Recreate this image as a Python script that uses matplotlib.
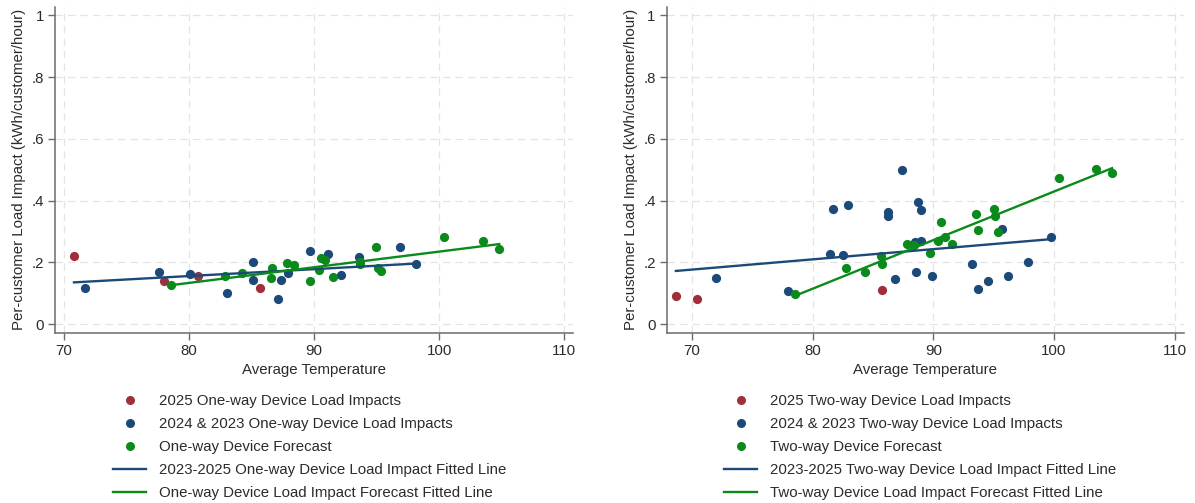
import matplotlib.pyplot as plt

plt.rcParams['font.family'] = ['Liberation Sans', 'DejaVu Sans']

# --- One-way devices (left panel) ---
one_red_x = [70.80, 77.96, 80.68, 85.67]
one_red_y = [0.220, 0.139, 0.156, 0.116]
one_blue_x = [71.68, 77.59, 80.10, 83.07, 85.12, 85.12, 87.14, 87.39, 87.88,
              89.66, 91.12, 92.17, 93.60, 96.85, 98.16]
one_blue_y = [0.118, 0.169, 0.163, 0.099, 0.202, 0.143, 0.080, 0.142, 0.166,
              0.237, 0.226, 0.158, 0.217, 0.249, 0.195]
one_green_x = [78.57, 82.86, 84.26, 86.56, 86.65, 87.81, 88.36, 89.65, 90.38,
               90.57, 90.88, 91.49, 93.63, 93.66, 94.98, 95.11, 95.31, 100.36,
               103.49, 104.80]
one_green_y = [0.128, 0.155, 0.166, 0.150, 0.180, 0.198, 0.191, 0.139, 0.174,
               0.213, 0.207, 0.151, 0.202, 0.194, 0.248, 0.180, 0.172, 0.281,
               0.270, 0.243]
one_fit_blue_x = [70.80, 98.16]
one_fit_blue_y = [0.135, 0.196]
one_fit_green_x = [78.57, 104.80]
one_fit_green_y = [0.126, 0.259]

# --- Two-way devices (right panel) ---
two_red_x = [68.68, 70.47, 85.72]
two_red_y = [0.090, 0.082, 0.111]
two_blue_x = [72.00, 77.99, 81.42, 81.70, 82.55, 82.92, 86.23, 86.23, 86.79,
              87.42, 88.58, 88.74, 88.96, 88.49, 88.96, 89.91, 93.21, 93.71,
              94.50, 95.72, 96.23, 97.83, 99.75]
two_blue_y = [0.150, 0.107, 0.226, 0.373, 0.223, 0.386, 0.363, 0.349, 0.145,
              0.499, 0.169, 0.394, 0.369, 0.267, 0.268, 0.155, 0.196, 0.114,
              0.139, 0.309, 0.156, 0.202, 0.282]
two_green_x = [78.52, 82.80, 84.31, 85.69, 85.75, 87.80, 88.43, 89.69, 90.60,
               90.38, 90.94, 91.54, 93.55, 93.74, 95.03, 95.13, 95.35, 100.44,
               103.49, 104.81]
two_green_y = [0.096, 0.183, 0.169, 0.220, 0.194, 0.259, 0.255, 0.230, 0.331,
               0.270, 0.281, 0.259, 0.358, 0.306, 0.372, 0.349, 0.298, 0.474,
               0.503, 0.490]
two_fit_blue_x = [68.68, 99.75]
two_fit_blue_y = [0.172, 0.275]
two_fit_green_x = [78.52, 104.81]
two_fit_green_y = [0.091, 0.505]

x_ticks = [70, 80, 90, 100, 110]
y_ticks = [0, 0.2, 0.4, 0.6, 0.8, 1]
y_tick_labels = ["0", ".2", ".4", ".6", ".8", "1"]

RED = "#9e2f3b"
BLUE = "#1b4a78"
GREEN = "#0b8a1c"
FS = 10.8

fig = plt.figure(figsize=(11.95, 5.03), dpi=100)


def draw_panel(ax, red, blue, green, fit_b, fit_g, xlim, word):
    ax.grid(True, color="#e4e4e4", linestyle=(0, (6, 4)), linewidth=0.9)
    ax.set_axisbelow(True)
    ax.scatter(*red, s=44, color=RED, zorder=3, linewidths=0)
    ax.scatter(*blue, s=44, color=BLUE, zorder=3, linewidths=0)
    ax.scatter(*green, s=44, color=GREEN, zorder=3, linewidths=0)
    ax.plot(*fit_b, color=BLUE, lw=1.7, zorder=4)
    ax.plot(*fit_g, color=GREEN, lw=1.7, zorder=4)
    ax.set_xlim(*xlim)
    ax.set_ylim(-0.028, 1.027)
    ax.set_xticks(x_ticks)
    ax.set_yticks(y_ticks)
    ax.set_yticklabels(y_tick_labels)
    for s in ["top", "right"]:
        ax.spines[s].set_visible(False)
    for s in ["left", "bottom"]:
        ax.spines[s].set_color("#6b6b6b")
        ax.spines[s].set_linewidth(1.1)
    ax.tick_params(length=5, width=1, color="#6b6b6b", labelsize=FS,
                   labelcolor="#2b2b2b", pad=3)
    ax.set_xlabel("Average Temperature", fontsize=FS, color="#2b2b2b", labelpad=4)
    ax.set_ylabel("Per-customer Load Impact (kWh/customer/hour)", fontsize=FS,
                  color="#2b2b2b", labelpad=4)
    labels = [f"2025 {word} Device Load Impacts",
              f"2024 & 2023 {word} Device Load Impacts",
              f"{word} Device Forecast",
              f"2023-2025 {word} Device Load Impact Fitted Line",
              f"{word} Device Load Impact Forecast Fitted Line"]
    handles = [
        plt.Line2D([], [], ls="", marker="o", ms=6.5, color=RED, mec="none"),
        plt.Line2D([], [], ls="", marker="o", ms=6.5, color=BLUE, mec="none"),
        plt.Line2D([], [], ls="", marker="o", ms=6.5, color=GREEN, mec="none"),
        plt.Line2D([], [], color=BLUE, lw=1.7),
        plt.Line2D([], [], color=GREEN, lw=1.7),
    ]
    return handles, labels


ax1 = fig.add_axes([0.046, 0.3386, 0.4335, 0.6474])
h, l = draw_panel(ax1, (one_red_x, one_red_y), (one_blue_x, one_blue_y),
                  (one_green_x, one_green_y), (one_fit_blue_x, one_fit_blue_y),
                  (one_fit_green_x, one_fit_green_y), (69.28, 110.7), "One-way")
fig.legend(h, l, loc="upper left", bbox_to_anchor=(0.0946, 0.216), frameon=False,
           fontsize=FS, handlelength=2.2, handletextpad=0.87, labelspacing=0.6,
           borderaxespad=0, borderpad=0, labelcolor="#2b2b2b")

ax2 = fig.add_axes([0.558, 0.3386, 0.4326, 0.6474])
h, l = draw_panel(ax2, (two_red_x, two_red_y), (two_blue_x, two_blue_y),
                  (two_green_x, two_green_y), (two_fit_blue_x, two_fit_blue_y),
                  (two_fit_green_x, two_fit_green_y), (67.93, 110.75), "Two-way")
fig.legend(h, l, loc="upper left", bbox_to_anchor=(0.606, 0.216), frameon=False,
           fontsize=FS, handlelength=2.2, handletextpad=0.87, labelspacing=0.6,
           borderaxespad=0, borderpad=0, labelcolor="#2b2b2b")

fig.savefig("out.png", dpi=100)
